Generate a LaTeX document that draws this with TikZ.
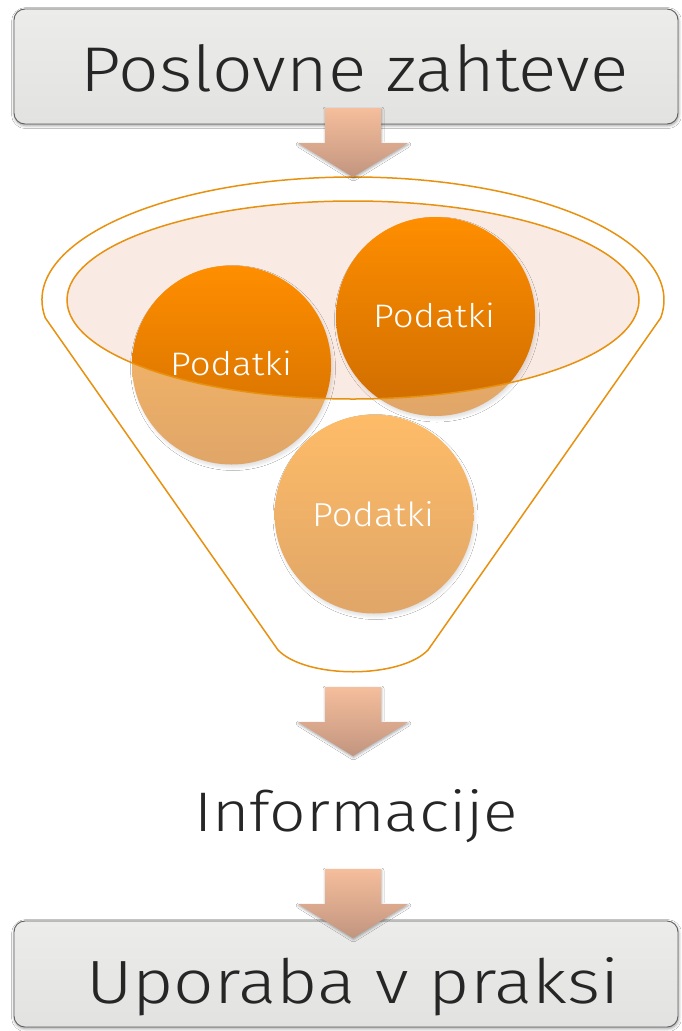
\documentclass[tikz,border=0pt]{standalone}
\usepackage{fontspec}
\IfFontExistsTF{Fira Sans Light}{\setmainfont{Fira Sans Light}}{%
 \IfFontExistsTF{Lato Light}{\setmainfont{Lato Light}}{%
  \IfFontExistsTF{DejaVuSans-ExtraLight.ttf}{\setmainfont{DejaVuSans-ExtraLight.ttf}}{%
   \IfFontExistsTF{DejaVu Sans ExtraLight}{\setmainfont{DejaVu Sans ExtraLight}}{%
    \setmainfont{Fira Sans}}}}}
\usetikzlibrary{calc,shadows.blur}
\definecolor{txt}{RGB}{38,38,38}
\definecolor{boxtop}{RGB}{236,236,235}
\definecolor{boxbot}{RGB}{226,226,225}
\definecolor{boxline}{RGB}{95,95,95}
\definecolor{arrtop}{RGB}{245,190,156}
\definecolor{arrbot}{RGB}{194,149,127}
\definecolor{funline}{RGB}{232,145,15}
\definecolor{rimfill}{RGB}{249,234,227}
\definecolor{brtop}{RGB}{255,142,0}
\definecolor{brbot}{RGB}{205,108,0}
\definecolor{mutop}{RGB}{254,188,104}
\definecolor{mubot}{RGB}{224,166,104}
\tikzset{
  box/.style={rounded corners=11pt, draw=boxline, line width=0.9pt,
    top color=boxtop, bottom color=boxbot, inner sep=0pt,
    blur shadow={shadow xshift=0.6pt, shadow yshift=-1.6pt, shadow blur radius=3pt, shadow opacity=40}},
  label/.style={inner sep=0pt, outer sep=0pt, text=txt, anchor=base west},
  podtext/.style={inner sep=0pt, outer sep=0pt, text=white, anchor=base west},
  ball/.style={circle, minimum size=199pt, inner sep=0pt, top color=mutop, bottom color=mubot,
    blur shadow={shadow xshift=1.5pt, shadow yshift=-3pt, shadow blur radius=3pt, shadow opacity=12}},
  funnel/.style={draw=funline, line width=1.5pt, line join=round},
  blockarrow/.pic={
    \shade[top color=arrtop, bottom color=arrbot,
      blur shadow={shadow xshift=0.5pt, shadow yshift=-1.5pt, shadow blur radius=2.5pt, shadow opacity=35}]
      (-28,0) -- (28,0) -- (28,35) -- (55,35) -- (0,69) -- (-55,35) -- (-28,35) -- cycle;
  }
}
\begin{document}
\begin{tikzpicture}[x=1pt,y=-1pt]
\useasboundingbox (0,0) rectangle (681,1031);
\fill[white] (0,0) rectangle (681,1031);

% boxes
\node[box, minimum width=664pt, minimum height=115pt] (reqbox) at (346,66.5) {};
\node[label] (req) at (80,91) {\resizebox{548pt}{47pt}{Poslovne zahteve}};

\node[box, minimum width=664pt, minimum height=106pt] (usebox) at (346,974) {};
\node[label] (use) at (86,1003) {\resizebox{533pt}{46pt}{Uporaba v praksi}};

\node[label] (info) at (194,831) {\resizebox{324pt}{42pt}{Informacije}};

% funnel outline
\coordinate (rim) at (353,300);
\draw[funnel] ($(rim)+(171.6:311 and 123)$) coordinate (rimL)
  arc[start angle=171.6, end angle=368.4, x radius=311, y radius=123] coordinate (rimR)
  -- (428,650) coordinate (botR)
  .. controls (400,679) and (306,679) .. (278,650) coordinate (botL)
  -- cycle;

% inner rim fill
\fill[rimfill] (rim) ellipse[x radius=286, y radius=99];

% balls (muted)
\node[ball] (c1) at (231.5,365) {};
\node[ball] (c2) at (435.5,316.5) {};
\node[ball] (c3) at (374,514) {};

% bright parts inside the rim
\begin{scope}
  \clip (rim) ellipse[x radius=286, y radius=99];
  \shade[top color=brtop, bottom color=brbot] (c1.center) circle[radius=99.5];
  \shade[top color=brtop, bottom color=brbot] (c2.center) circle[radius=99.5];
\end{scope}
\draw[funline, line width=1.5pt] (rim) ellipse[x radius=286, y radius=99];

% texts on balls
\node[podtext] (t1) at (170,375) {\resizebox{122pt}{24.5pt}{Podatki}};
\node[podtext] (t2) at (373,327) {\resizebox{122pt}{24.5pt}{Podatki}};
\node[podtext] (t3) at (312,526) {\resizebox{122pt}{25pt}{Podatki}};

% arrows
\pic (a1) at (353,108) {blockarrow};
\pic (a2) at (353,687) {blockarrow};
\pic (a3) at (353,869) {blockarrow};
\end{tikzpicture}
\end{document}
